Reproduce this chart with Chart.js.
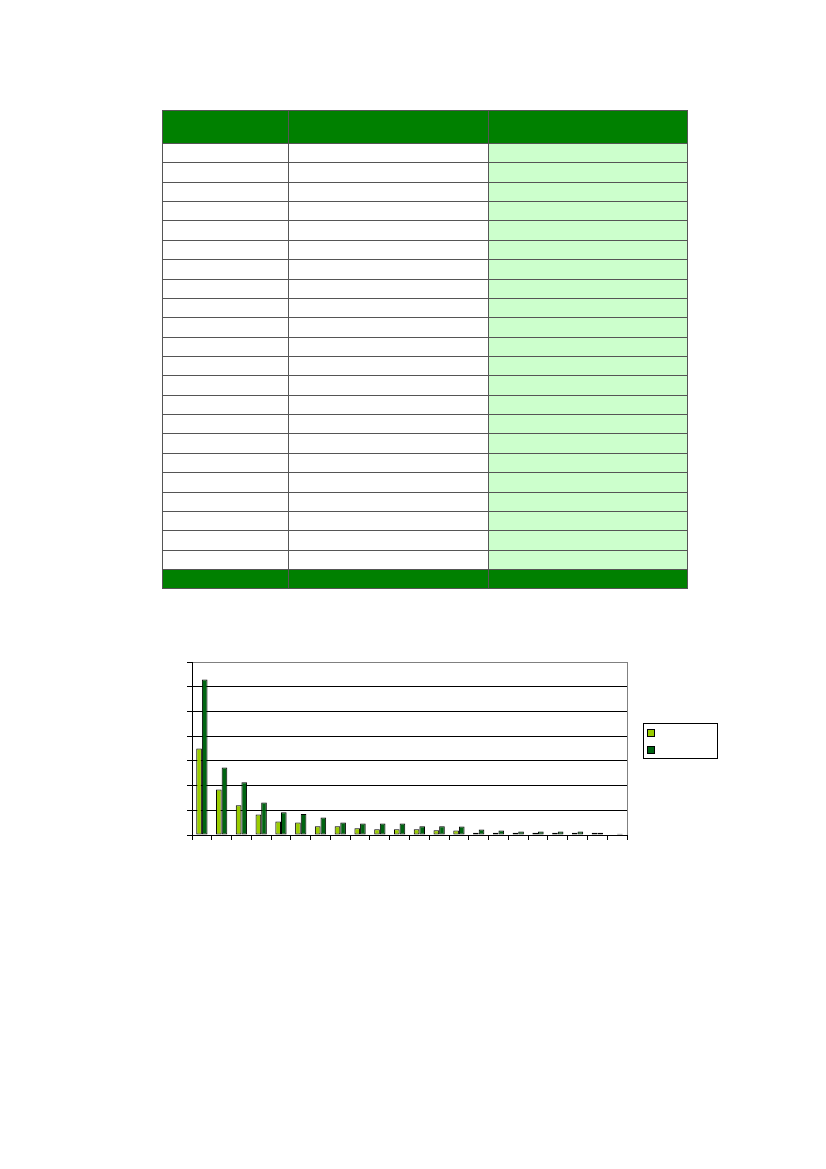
<!DOCTYPE html>
<html>
<head>
<meta charset="utf-8">
<script src="https://cdn.jsdelivr.net/npm/chart.js@4.4.0/dist/chart.umd.min.js"></script>
<style>
  body { margin: 0; background: #fff; width: 826px; height: 1169px; position: relative; overflow: hidden; }
  .blk { position: absolute; }
  #chartBox { position: absolute; left: 150px; top: 640px; width: 500px; height: 220px; }
  #legend { position: absolute; left: 643px; top: 723px; width: 73px; height: 34px; border: 1px solid #000; background: #fff; }
  #legend span { position: absolute; left: 3px; width: 6px; height: 6px; border: 1px solid #000; }
</style>
</head>
<body>
<div id="table"></div>
<div id="chartBox"><canvas id="myChart"></canvas></div>
<div id="legend">
  <span style="top:5px;background:#99cc00"></span>
  <span style="top:22px;background:#006411"></span>
</div>
<script>
// data (units of the y axis, 0..7)
const categories = ['1','2','3','4','5','6','7','8','9','10','11','12','13','14','15','16','17','18','19','20','21','22']
const series1 = [3.50, 1.84, 1.20, 0.83, 0.55, 0.51, 0.35, 0.35, 0.27, 0.23, 0.23, 0.23, 0.19, 0.18, 0.09, 0.09, 0.09, 0.09, 0.09, 0.09, 0.09, 0.02]
const series2 = [6.29, 2.73, 2.13, 1.32, 0.92, 0.85, 0.71, 0.51, 0.47, 0.47, 0.47, 0.35, 0.35, 0.34, 0.22, 0.18, 0.14, 0.14, 0.14, 0.14, 0.09, 0.05]
const yTicks = [0, 1, 2, 3, 4, 5, 6, 7]

// empty table drawn above the chart
const tbl = document.getElementById('table')
function box(x, y, w, h, bg) {
    const d = document.createElement('div')
    d.className = 'blk'
    d.style.left = x + 'px'; d.style.top = y + 'px'
    d.style.width = w + 'px'; d.style.height = h + 'px'
    d.style.background = bg
    tbl.appendChild(d)
}
const colX = [162, 288, 488, 687]
const rowH = (569 - 143) / categories.length
box(162, 110, 525, 33, '#008000')          // header
box(488, 143, 199, 426, '#ccffcc')         // light green column
box(162, 569, 525, 19, '#008000')          // footer
box(162, 110, 525, 1, '#555')
for (let i = 0; i <= categories.length; i++) {
    box(162, Math.round(143 + i * rowH), 525, 1, '#555')
}
box(162, 588, 526, 1, '#555')
colX.forEach(x => box(x, 110, 1, 479, '#555'))

// gray frame of the plot area (top is done by the grid, this is the right side)
const plotFrame = {
    id: 'plotFrame',
    beforeDatasetsDraw(chart) {
        const a = chart.chartArea, c = chart.ctx
        c.save()
        c.strokeStyle = '#808080'
        c.lineWidth = 1
        c.beginPath()
        c.moveTo(Math.round(a.right) + 0.5, a.top)
        c.lineTo(Math.round(a.right) + 0.5, a.bottom)
        c.stroke()
        c.restore()
    }
}

const ctx = document.getElementById('myChart')
const chart = new Chart(ctx, {
    type: 'bar',
    data: {
        labels: categories,
        datasets: [{
            label: 'Serie 1',
            data: series1,
            backgroundColor: '#99cc00',
            borderColor: '#000',
            borderWidth: 1,
            borderSkipped: false
        }, {
            label: 'Serie 2',
            data: series2,
            backgroundColor: '#006411',
            borderColor: '#000',
            borderWidth: 1,
            borderSkipped: false
        }]
    },
    options: {
        responsive: true,
        maintainAspectRatio: false,
        animation: false,
        layout: { padding: { left: 37, right: 23, top: 22, bottom: 20 } },
        plugins: { legend: { display: false }, tooltip: { enabled: false } },
        datasets: { bar: { categoryPercentage: 0.57, barPercentage: 1 } },
        scales: {
            x: {
                offset: true,
                ticks: { display: false },
                grid: { drawOnChartArea: false, drawTicks: true, tickLength: 5, color: '#000', offset: true },
                border: { color: '#000' },
                afterFit: s => { s.height = 5 }
            },
            y: {
                min: yTicks[0],
                max: yTicks[yTicks.length - 1],
                afterBuildTicks: s => { s.ticks = yTicks.map(v => ({ value: v })) },
                ticks: { display: false },
                grid: {
                    color: c => c.tick && c.tick.value === yTicks[yTicks.length - 1] ? '#808080' : '#000',
                    tickColor: '#000',
                    tickLength: 5
                },
                border: { color: '#000' },
                afterFit: s => { s.width = 5 }
            }
        }
    },
    plugins: [plotFrame]
})
</script>
</body>
</html>
